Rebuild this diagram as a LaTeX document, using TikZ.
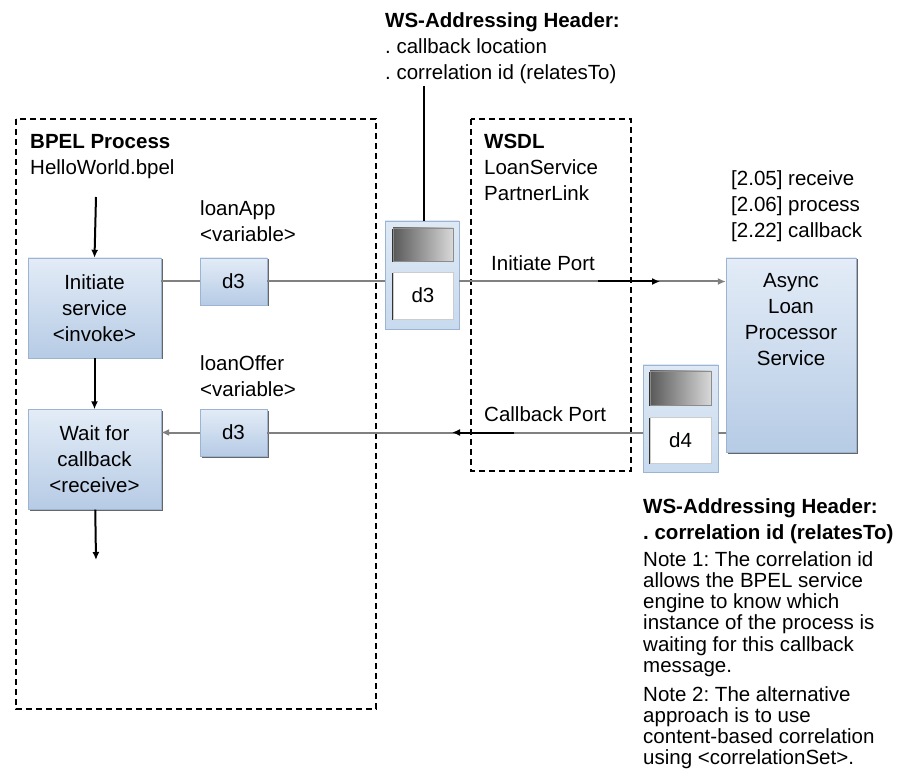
\documentclass[tikz,border=0pt]{standalone}
\usepackage{fontspec}
\setmainfont{Liberation Sans}
\usetikzlibrary{positioning,shadows,arrows.meta}
\definecolor{boxtop}{HTML}{E3ECF7}
\definecolor{boxbot}{HTML}{B6CBE5}
\definecolor{boxedge}{HTML}{9CB3D1}
\definecolor{envfill}{HTML}{C8DAEE}
\definecolor{wire}{HTML}{808080}
\tikzset{act/.style={rectangle, draw=boxedge, top color=boxtop, bottom color=boxbot, drop shadow={shadow xshift=1.5pt, shadow yshift=-1.5pt, fill=black!60, opacity=1}, align=center, inner sep=0pt, text=black},
       var/.style={act, minimum width=67pt, minimum height=47pt},
       env/.style={rectangle, draw=boxedge, top color=envfill!60, bottom color=envfill, minimum width=74pt, minimum height=108pt, drop shadow={shadow xshift=1pt, shadow yshift=-1pt, fill=black!35, opacity=1}},
       envlid/.style={rectangle, draw=black!45, left color=black!65, right color=black!15, minimum width=60pt, minimum height=33pt, drop shadow={shadow xshift=-1pt, shadow yshift=-1pt, fill=black!80, opacity=1}},
       envdoc/.style={rectangle, draw=black!20, fill=white, minimum width=60pt, minimum height=47pt, drop shadow={shadow xshift=-1pt, shadow yshift=-1.2pt, fill=black!80, opacity=1}},
       txt/.style={anchor=north west, inner sep=0pt, align=left},
       note/.style={txt, font=\fontsize{20.5}{21.3}\selectfont},
       wirel/.style={draw=wire, line width=2pt},
       flow/.style={line width=2pt, -{Latex[length=8pt,width=7pt]}},
       frame/.style={draw=black, line width=1.2pt, dash pattern=on 6pt off 4pt}}

\begin{document}
\frenchspacing
\begin{tikzpicture}[x=1pt, y=-1pt, font=\fontsize{20.5}{26}\selectfont]
\useasboundingbox[fill=white] (0,0) rectangle (906,770);
% dashed containers
\draw[frame] (16,119) rectangle (376,709);
\draw[frame] (471,119) rectangle (631,471);
\node[txt] (bpel) at (30,134) {\textbf{BPEL Process}\\HelloWorld.bpel};
\node[txt] (wsdl) at (484,134) {\textbf{WSDL}\\LoanService\\PartnerLink};
% activities
\node[act, minimum width=133pt, minimum height=100pt] (initiate) at (94.5,308) {Initiate\\service\\<invoke>};
\node[act, minimum width=133pt, minimum height=100pt] (wait) at (94.5,459.5) {Wait for\\callback\\<receive>};
\node[var] (varapp) at (233.5,281.5) {d3};
\node[var] (varoffer) at (233.5,432.5) {d3};
\node[txt] (appname) at (200,200) {loanApp\\<variable>};
\node[txt] (offername) at (200,355) {loanOffer\\<variable>};
% service
\node[act, minimum width=130pt, minimum height=194pt] (async) at (791,355) {};
\node[anchor=north, inner sep=0pt, align=center] (asynctxt) at (791,273) {Async\\Loan\\Processor\\Service};
\node[txt] (steps) at (731,170) {[2.05] receive\\{}[2.06] process\\{}[2.22] callback};
% messages
\node[env] (msgout) at (422,275) {};
\node[envlid] (lidout) at (423,244.5) {};
\node[envdoc] (docout) at (423,295.5) {d3};
\node[env, minimum width=75pt, minimum height=107pt] (msgback) at (680.5,418.5) {};
\node[envlid, minimum width=61pt, minimum height=34pt] (lidback) at (680.5,388) {};
\node[envdoc, minimum width=61pt, minimum height=46pt] (docback) at (680.5,440) {d4};
% headers and notes
\node[txt] (hdrout) at (385,12) {\textbf{WS-Addressing Header:}\\. callback location\\. correlation id (relatesTo)};
\node[txt] (hdrback) at (643,498) {\textbf{WS-Addressing Header:}\\\textbf{. correlation id (relatesTo)}};
\node[note] (noteone) at (643,551) {Note 1: The correlation id\\allows the BPEL service\\engine to know which\\instance of the process is\\waiting for this callback\\message.};
\node[note] (notetwo) at (643,686) {Note 2: The alternative\\approach is to use\\content-based correlation\\using <correlationSet>.};
\node[txt] (initport) at (491,255) {Initiate Port};
\node[txt] (cbport) at (484,406) {Callback Port};
% connectors
\coordinate (hdrfoot) at (424,86);
\coordinate (start) at (96,197);
\coordinate (finish) at (96,560);
\coordinate (initA) at (598,281.5);
\coordinate (initB) at (660,281.5);
\coordinate (cbA) at (514,432.5);
\coordinate (cbB) at (452,432.5);
\draw[line width=2pt] (hdrfoot) -- (hdrfoot |- msgout.north);
\draw[flow] (start) -- (initiate.north);
\draw[flow] (initiate) -- (wait);
\draw[flow] (wait) -- (finish);
\draw[wirel] (varapp.west -| initiate.east) -- (varapp.west);
\draw[wirel] (varapp.east) -- (varapp.east -| msgout.west);
\draw[wirel, -{Latex[length=8pt,width=7pt]}] (varapp.east -| msgout.east) -- (varapp.east -| async.west);
\draw[flow] (initA) -- (initB);
\draw[wirel] (varoffer.east -| async.west) -- (varoffer.east -| msgback.east);
\draw[wirel] (varoffer.east -| msgback.west) -- (varoffer.east);
\draw[wirel, -{Latex[length=8pt,width=7pt]}] (varoffer.west) -- (varoffer.west -| wait.east);
\draw[flow] (cbA) -- (cbB);
\end{tikzpicture}
\end{document}
